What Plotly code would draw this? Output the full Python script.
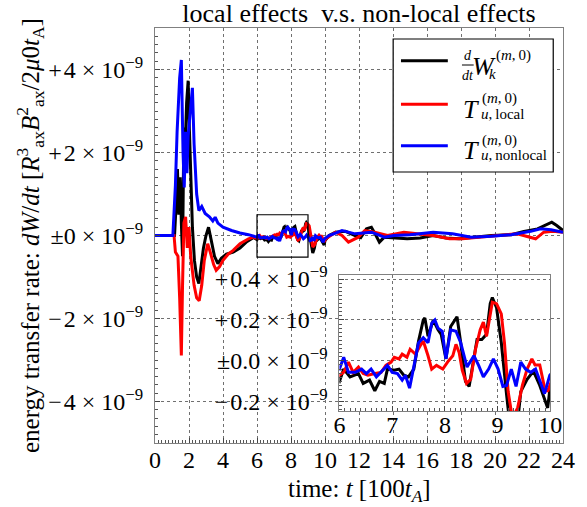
import plotly.graph_objects as go

# ---------------- data (values in units of 1e-9) ----------------
t_black = [0, 1.15, 1.25, 1.32, 1.4, 1.48, 1.55, 1.62, 1.7, 1.78, 1.86, 1.95, 2.02, 2.1, 2.2, 2.32, 2.45, 2.58,
           2.7, 2.85, 3.0, 3.15, 3.3, 3.5, 3.7, 3.9, 4.2, 4.6, 5.0, 5.4, 5.8,
           6.0, 6.08, 6.2, 6.36, 6.45, 6.57, 6.67, 6.76, 6.85, 6.91, 7.04, 7.13, 7.22, 7.31, 7.41, 7.5, 7.59,
           7.62, 7.68, 7.78, 7.87, 7.93, 8.02, 8.11, 8.18, 8.23, 8.3, 8.39, 8.46, 8.55, 8.61, 8.7, 8.79, 8.86,
           8.9, 8.98, 9.07, 9.17, 9.28, 9.38, 9.44, 9.56, 9.68, 9.8, 9.89, 9.95, 10.0,
           10.24, 10.62, 11.2, 11.77, 12.1, 12.44, 12.73, 13.0, 13.2, 13.49, 14.06, 14.83, 15.6, 16.36, 17.13,
           17.9, 18.6, 19.8, 20.95, 21.7, 22.5, 22.9, 23.34, 23.63, 24.0]
v_black = [0, 0, 0.8, 1.6, 0.5, 1.4, 0.3, -0.5, 2.6, 2.2, 3.2, 3.73, 2.6, 1.2, 0.2, -0.6, -1.0, -1.16,
           -0.8, -0.3, 0.0, 0.2, -0.1, -0.5, -0.68, -0.55, -0.45, -0.4, -0.3, -0.15, -0.05,
           -0.10, -0.04, -0.078, -0.062, -0.11, -0.094, -0.146, -0.10, -0.11, -0.04, -0.046, -0.04, -0.07, -0.078,
           -0.04, 0.097, 0.2, 0.21, 0.12, 0.2, 0.152, 0.129, 0.01, 0.168, 0.2, 0.216, 0.089, -0.10, -0.125, 0.025,
           0.105, 0.105, 0.13, 0.28, 0.31, 0.26, 0.09, -0.165, -0.42, -0.3, -0.15, -0.09, -0.05, -0.12, -0.18,
           -0.23, -0.12,
           0.0, 0.08, 0.1, 0.0, -0.05, 0.16, 0.2, 0.0, -0.16, -0.04, -0.06, -0.08, -0.06, 0.0, -0.06,
           -0.08, -0.05, 0.0, 0.02, 0.1, 0.16, 0.24, 0.32, 0.24, 0.12]

t_red = [0, 1.12, 1.2, 1.35, 1.45, 1.55, 1.62, 1.7, 1.8, 1.9, 2.0, 2.1, 2.3, 2.45, 2.6, 2.75, 2.9, 3.1, 3.25,
         3.45, 3.6, 3.8, 4.0, 4.3, 4.6, 5.0, 5.5, 5.8,
         6.0, 6.08, 6.17, 6.26, 6.36, 6.45, 6.54, 6.67, 6.79, 6.88, 6.98, 7.04, 7.13, 7.19, 7.28, 7.34, 7.44,
         7.53, 7.59, 7.68, 7.75, 7.84, 7.96, 8.05, 8.15, 8.21, 8.27, 8.33, 8.41, 8.49, 8.58, 8.67, 8.73, 8.79,
         8.86, 8.9, 8.98, 9.07, 9.13, 9.2, 9.28, 9.38, 9.47, 9.56, 9.65, 9.71, 9.8, 9.89, 9.95,
         10.05, 10.62, 11.0, 11.38, 11.96, 12.34, 12.92, 13.68, 14.64, 15.4, 16.36, 17.32, 18.08, 19.04, 20.2,
         21.3, 22.39, 22.87, 23.4, 24.0]
v_red = [0, 0, -0.4, -0.5, -1.5, -2.89, -1.2, 0.3, 0.45, -0.3, 0.2, -0.5, -1.2, -1.5, -1.57, -1.2, -0.6, -0.2,
         -0.4, -0.7, -0.84, -0.75, -0.6, -0.45, -0.36, -0.2, -0.08, -0.04,
         -0.07, -0.056, -0.006, -0.056, -0.03, -0.062, -0.07, -0.062, -0.056, -0.022, -0.006, 0.018, 0.01,
         0.033, 0.018, 0.057, 0.033, 0.073, 0.097, 0.025, -0.04, -0.022, -0.04, -0.006, 0.025, 0.081, 0.041,
         -0.046, -0.11, -0.09, 0.057, 0.152, 0.19, 0.12, 0.23, 0.287, 0.28, 0.23, 0.089, -0.15, -0.28, -0.23,
         -0.12, -0.04, 0.01, -0.02, -0.02, -0.13, -0.15,
         -0.08, 0.08, 0.0, -0.16, -0.04, 0.12, 0.08, 0.0, 0.08, 0.04, 0.0, -0.08, -0.08, -0.04, 0.0,
         0.04, -0.08, 0.08, 0.1, 0.08]

t_blue = [0, 1.05, 1.2, 1.3, 1.45, 1.55, 1.65, 1.72, 1.8, 1.88, 1.95, 2.1, 2.2, 2.3, 2.45, 2.58, 2.75, 2.95,
          3.2, 3.4, 3.54, 3.7, 4.0, 4.5, 5.0, 5.5, 5.8,
          6.0, 6.08, 6.17, 6.3, 6.42, 6.51, 6.6, 6.7, 6.79, 6.91, 7.0, 7.1, 7.19, 7.25, 7.33, 7.41, 7.5, 7.59,
          7.68, 7.75, 7.81, 7.87, 7.95, 8.02, 8.11, 8.21, 8.3, 8.42, 8.55, 8.64, 8.73, 8.83, 8.92, 9.01, 9.1,
          9.17, 9.26, 9.35, 9.44, 9.53, 9.63, 9.72, 9.81, 9.89, 9.99,
          10.24, 11.0, 11.77, 12.73, 13.49, 14.06, 15.0, 16.36, 17.5, 18.6, 19.8, 20.95, 22.1, 22.68, 23.3, 24.0]
v_blue = [0, 0, 1.2, 2.5, 3.8, 4.23, 2.0, 1.16, 2.5, 1.5, 2.4, 3.0, 3.56, 2.2, 1.0, 0.6, 0.7, 0.53,
          0.45, 0.35, 0.44, 0.3, 0.2, 0.12, 0.06, 0.02, -0.02,
          -0.04, 0.018, -0.056, -0.056, -0.04, -0.062, -0.04, -0.078, -0.056, -0.022, -0.056, -0.062, -0.094,
          -0.07, -0.133, -0.022, 0.089, 0.113, 0.089, 0.184, 0.2, 0.16, 0.145, 0.01, 0.152, 0.145, 0.089, -0.03,
          0.025, -0.022, -0.078, -0.04, 0.01, -0.04, -0.125, -0.12, -0.04, -0.125, -0.006, -0.04, -0.056,
          -0.04, -0.10, -0.16, -0.07,
          0.0, 0.12, 0.04, 0.08, -0.04, 0.0, 0.02, 0.08, 0.04, -0.04, -0.02, 0.02, 0.1, 0.16, 0.14, 0.08]

x_ticks = list(range(0, 25, 2))
y_ticks = [-4, -2, 0, 2, 4]
y_ticktext = ["\u2212\u200a4", "\u2212\u200a2", "\u00b10", "+\u200a2", "+\u200a4"]
inset_x_ticks = [6, 7, 8, 9, 10]
inset_y_ticks = [-0.2, 0.0, 0.2, 0.4]
inset_y_ticktext = ["\u2212\u200a0.2", "\u00b10.0", "+\u200a0.2", "+\u200a0.4"]
zoom_box = dict(t0=6, t1=9, v0=-0.52, v1=0.5)

series = [("black", t_black, v_black), ("red", t_red, v_red), ("blue", t_blue, v_blue)]

# ---------------- layout geometry ----------------
W, H = 587, 507
ML, MR, MT, MB = 155, 14, 28, 64
PW = W - ML - MR
PH = H - MT - MB


def px(x):
    return (x - ML) / PW


def py(y):
    return (H - MB - y) / PH


FONT = "Liberation Serif"
sci = lambda s: s + " \u00d7 10<sup>\u22129</sup>"

fig = go.Figure()
for color, t, v in series:
    fig.add_trace(go.Scatter(x=t, y=v, mode="lines", line=dict(color=color, width=3),
                             xaxis="x", yaxis="y", showlegend=False, hoverinfo="skip"))
for color, t, v in series:
    fig.add_trace(go.Scatter(x=t, y=v, mode="lines", line=dict(color=color, width=3),
                             xaxis="x2", yaxis="y2", showlegend=False, hoverinfo="skip"))

axis_common = dict(showline=True, linecolor="#808080", linewidth=1, mirror=True,
                   showgrid=True, gridcolor="#707070", griddash="dot", gridwidth=1,
                   zeroline=False, ticks="inside", ticklen=5, tickcolor="#444",
                   tickfont=dict(family=FONT, size=24, color="black"))

fig.update_layout(
    width=W, height=H,
    margin=dict(l=ML, r=MR, t=MT, b=MB, pad=0),
    paper_bgcolor="white", plot_bgcolor="white",
    font=dict(family=FONT, color="black"),
    showlegend=False,
    title=dict(text="local effects\u00a0\u00a0v.s. non-local effects", x=0.5, xref="paper",
               y=1 - 13 / H, yref="container", xanchor="center", yanchor="middle",
               font=dict(family=FONT, size=26, color="black")),
    xaxis=dict(axis_common, range=[0, 24], domain=[0, 1], anchor="y",
               tickmode="array", tickvals=x_ticks, ticktext=[str(v) for v in x_ticks],
               ticklabelstandoff=-5,
               minor=dict(ticks="inside", ticklen=3, tickmode="linear", tick0=0, dtick=0.2,
                          tickcolor="#555", showgrid=False)),
    yaxis=dict(axis_common, range=[-5, 5], domain=[0, 1], anchor="x",
               tickmode="array", tickvals=y_ticks, ticktext=[sci(s) for s in y_ticktext],
               ticklabelstandoff=6,
               minor=dict(ticks="inside", ticklen=3, tickmode="linear", tick0=0, dtick=0.2,
                          tickcolor="#555", showgrid=False)),
    xaxis2=dict(axis_common, range=[6, 10], domain=[px(344), px(560)], anchor="y2",
                tickmode="array", tickvals=inset_x_ticks, ticktext=[str(v) for v in inset_x_ticks],
                ticklabelstandoff=-8,
                minor=dict(ticks="inside", ticklen=3, tickmode="linear", tick0=6, dtick=0.1,
                           tickcolor="#555", showgrid=False)),
    yaxis2=dict(axis_common, range=[-0.245, 0.42], domain=[py(411), py(275)], anchor="x2",
                tickmode="array", tickvals=inset_y_ticks, ticktext=[sci(s) for s in inset_y_ticktext],
                ticklabelstandoff=6,
                minor=dict(ticks="inside", ticklen=3, tickmode="linear", tick0=0, dtick=0.02,
                           tickcolor="#555", showgrid=False)),
)

shapes = [
    dict(type="rect", xref="x", yref="y", x0=zoom_box["t0"], x1=zoom_box["t1"],
         y0=zoom_box["v0"], y1=zoom_box["v1"], line=dict(color="black", width=1.2)),
    dict(type="rect", xref="paper", yref="paper", x0=px(399), x1=px(563), y0=py(172), y1=py(39),
         line=dict(color="black", width=1.2), fillcolor="white", layer="above"),
]
for color, yy in [("black", 60.7), ("red", 104.3), ("blue", 145.7)]:
    shapes.append(dict(type="line", xref="paper", yref="paper", x0=px(407), x1=px(455), y0=py(yy), y1=py(yy),
                       line=dict(color=color, width=3), layer="above"))
# fraction bar d/dt
shapes.append(dict(type="line", xref="paper", yref="paper", x0=px(469.5), x1=px(481.5), y0=py(65), y1=py(65),
                   line=dict(color="black", width=1), layer="above"))
fig.update_layout(shapes=shapes)


def ann(text, x, y, size, xanchor="left", yanchor="middle", angle=0):
    fig.add_annotation(text=text, x=px(x), y=py(y), xref="paper", yref="paper", showarrow=False,
                       xanchor=xanchor, yanchor=yanchor, textangle=angle,
                       font=dict(family=FONT, size=size, color="black"))


# legend texts
ann("<i>d</i>", 475.5, 56, 14, "center")
ann("<i>dt</i>", 475.5, 75, 14, "center")
ann("<i>W</i>", 492, 66, 26, "center")
ann("(<i>m</i>,\u20090)", 502, 56, 15)
ann("<i>k</i>", 495, 74, 15)
for yT, ysup, ysub, sub in [(109, 99, 114, "<i>u</i>,\u2009local"), (150, 140, 155, "<i>u</i>,\u2009nonlocal")]:
    ann("<i>T</i>", 479, yT, 26, "center")
    ann("(<i>m</i>,\u20090)", 488, ysup, 15)
    ann(sub, 486.5, ysub, 15)

# axis titles
ann("energy transfer rate: <i>dW</i>/<i>dt</i> [<i>R</i><sup>3</sup><sub>ax</sub><i>B</i><sup>2</sup><sub>ax</sub>"
    "/2<i>\u03bc</i>0<i>t</i><sub>A</sub>]", 27, 236, 25, "center", "middle", -90)
ann("time: <i>t</i> [100<i>t</i><sub><i>A</i></sub>]", 364, 490, 25, "center")

fig.write_html("out.html")
